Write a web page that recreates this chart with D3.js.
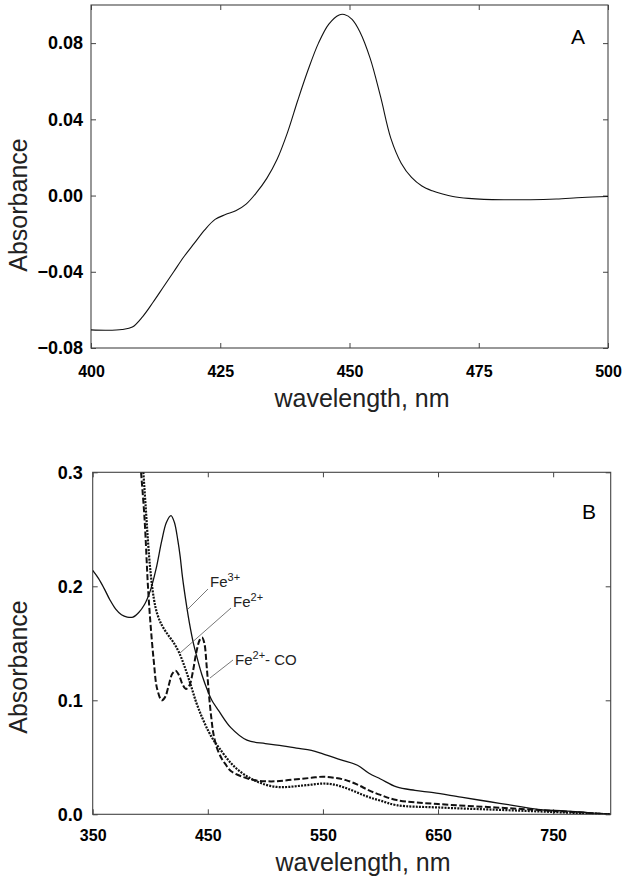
<!DOCTYPE html>
<html><head><meta charset="utf-8">
<script src="https://cdn.jsdelivr.net/npm/d3@7"></script>
<style>
body{margin:0;background:#fff}
svg{display:block}
text{font-family:"Liberation Sans",Arial,sans-serif}
</style></head>
<body>
<svg id="c" width="627" height="882"></svg>
<script>
// ---------- Panel A data (difference spectrum) ----------
const wlA = [400,403,406,408,410,412,414,416,418,420,422,424,426,428,430,432,434,436,438,440,442,444,446,448,449,450.5,452,454,456,458,460,462,464,466,468,470,473,476,480,485,490,495,500];
const absA = [-0.0705,-0.0707,-0.0703,-0.069,-0.0635,-0.056,-0.048,-0.040,-0.032,-0.025,-0.018,-0.0125,-0.010,-0.008,-0.0045,0.0015,0.009,0.019,0.033,0.050,0.066,0.080,0.090,0.0948,0.0950,0.0925,0.086,0.072,0.052,0.030,0.017,0.0095,0.005,0.0025,0.0008,-0.0005,-0.0015,-0.002,-0.0022,-0.0022,-0.0018,-0.001,-0.0005];
const xTicksA = [400,425,450,475,500];
const yTicksA = [-0.08,-0.04,0.00,0.04,0.08];

// ---------- Panel B data ----------
const wlFe3 = [350,355,360,365,370,375,380,385,390,395,400,405,410,414,418,421,424,426,428,431.7,434,437.5,440,445,450,453.5,460,470,484,500,515,527,540,550,565,580,590,600,614,630,646,670,695,720,739,760,780,800];
const absFe3 = [0.214,0.207,0.198,0.188,0.180,0.175,0.173,0.173,0.177,0.184,0.196,0.215,0.240,0.256,0.262,0.256,0.240,0.226,0.208,0.182,0.168,0.150,0.140,0.122,0.108,0.100,0.090,0.076,0.065,0.062,0.060,0.058,0.056,0.053,0.048,0.043,0.036,0.031,0.024,0.021,0.019,0.015,0.011,0.007,0.004,0.003,0.0015,0.000];

const wlFe2 = [394,396,398,400,403,406,410,415,420,425,430,435,440,445,450,455,460,470,480,490,500,510,520,530,540,550,560,570,580,590,600,614,650,700,750,800];
const absFe2 = [0.30,0.27,0.24,0.215,0.19,0.176,0.166,0.158,0.151,0.142,0.129,0.114,0.098,0.085,0.074,0.065,0.058,0.045,0.036,0.030,0.026,0.024,0.024,0.025,0.026,0.027,0.026,0.023,0.019,0.015,0.012,0.008,0.006,0.004,0.002,0.000];

const wlCO = [392,395,398,400,403,406,410,413,416,419,422,425,428,431,434,437,440,443,445,447,449,451,453,455,458,462,466,470,480,490,500,510,520,530,540,550,560,570,580,590,600,614,650,700,750,800];
const absCO = [0.30,0.26,0.20,0.17,0.135,0.11,0.100,0.103,0.113,0.123,0.126,0.122,0.114,0.110,0.113,0.125,0.142,0.153,0.155,0.150,0.130,0.105,0.085,0.070,0.058,0.049,0.043,0.038,0.033,0.030,0.029,0.029,0.030,0.031,0.032,0.033,0.032,0.030,0.026,0.021,0.017,0.0125,0.009,0.006,0.003,0.000];

const xTicksB = [350,450,550,650,750];
const yTicksB = [0.0,0.1,0.2,0.3];

const svg = d3.select("#c");
const frameColor = "#444";

function panel(cfg){
  const x = d3.scaleLinear().domain(cfg.xd).range([cfg.l, cfg.r]);
  const y = d3.scaleLinear().domain(cfg.yd).range([cfg.b, cfg.t]);
  const g = svg.append("g");
  g.append("rect").attr("x",cfg.l).attr("y",cfg.t).attr("width",cfg.r-cfg.l).attr("height",cfg.b-cfg.t)
    .attr("fill","none").attr("stroke",frameColor).attr("stroke-width",1.1);
  const ax = g.append("g").attr("transform",`translate(0,${cfg.b})`)
    .call(d3.axisBottom(x).tickValues(cfg.xt).tickSize(-5).tickPadding(cfg.xpad).tickFormat(d3.format("d")));
  const axT = g.append("g").attr("transform",`translate(0,${cfg.t})`)
    .call(d3.axisTop(x).tickValues(cfg.xt).tickSize(-5).tickFormat(""));
  const ay = g.append("g").attr("transform",`translate(${cfg.l},0)`)
    .call(d3.axisLeft(y).tickValues(cfg.yt).tickSize(-5).tickPadding(cfg.ypad).tickFormat(d3.format(cfg.yf)));
  const ayR = g.append("g").attr("transform",`translate(${cfg.r},0)`)
    .call(d3.axisRight(y).tickValues(cfg.yt).tickSize(-5).tickFormat(""));
  [ax,axT,ay,ayR].forEach(a=>{
    a.select(".domain").remove();
    a.selectAll(".tick line").attr("stroke",frameColor).attr("stroke-width",1);
  });
  ax.selectAll("text").attr("font-size",16).attr("font-weight","bold").attr("fill","#000")
    .attr("font-family","Liberation Sans, Arial, sans-serif");
  ay.selectAll("text").attr("font-size",18).attr("font-weight","bold").attr("fill","#000")
    .attr("font-family","Liberation Sans, Arial, sans-serif");
  g.append("text").attr("x",cfg.titleX).attr("y",cfg.titleY).attr("text-anchor","middle")
    .attr("font-size",25).attr("fill","#222").text("wavelength, nm");
  g.append("text").attr("transform",`translate(27,${cfg.ylabY}) rotate(-90)`).attr("text-anchor","middle")
    .attr("font-size",25).attr("fill","#222").text("Absorbance");
  g.append("text").attr("x",cfg.letterX).attr("y",cfg.letterY).attr("text-anchor","middle")
    .attr("font-size",21).attr("fill","#000").text(cfg.letter);
  const clipId = "clip"+cfg.letter;
  svg.append("clipPath").attr("id",clipId).append("rect")
    .attr("x",cfg.l).attr("y",cfg.t).attr("width",cfg.r-cfg.l).attr("height",cfg.b-cfg.t);
  const plot = g.append("g").attr("clip-path",`url(#${clipId})`);
  return {x,y,g,plot};
}

// Panel A
const A = panel({xd:[400,500], yd:[-0.08,0.10], l:91, r:608, t:5, b:348,
  xt:xTicksA, yt:yTicksA, yf:".2f", xpad:18, ypad:8,
  titleX:362, titleY:407, ylabY:205, letter:"A", letterX:578, letterY:44});
const lineA = d3.line().x((d,i)=>A.x(wlA[i])).y(d=>A.y(d)).curve(d3.curveCatmullRom.alpha(0.5));
A.plot.append("path").attr("d",lineA(absA)).attr("fill","none").attr("stroke","#111").attr("stroke-width",1.1);

// Panel B
const B = panel({xd:[350,800], yd:[0,0.3], l:92.7, r:610.7, t:472.3, b:814.3,
  xt:xTicksB, yt:yTicksB, yf:".1f", xpad:15, ypad:10,
  titleX:363, titleY:871, ylabY:667, letter:"B", letterX:589, letterY:519});
function addLine(wl, ab, dash, w){
  const ln = d3.line().x((d,i)=>B.x(wl[i])).y(d=>B.y(d)).curve(d3.curveCatmullRom.alpha(0.5));
  B.plot.append("path").attr("d",ln(ab)).attr("fill","none").attr("stroke","#111")
    .attr("stroke-width",w).attr("stroke-dasharray",dash);
}
addLine(wlFe3, absFe3, null, 1.3);
addLine(wlFe2, absFe2, "2,1.2", 2.2);
addLine(wlCO, absCO, "6,2.5", 2);

function lab(tx, ty, sup, rest, x1,y1,x2,y2){
  const t = B.g.append("text").attr("x",tx).attr("y",ty).attr("font-size",15).attr("fill","#222");
  t.append("tspan").text("Fe");
  t.append("tspan").attr("dy",-6).attr("font-size",11).text(sup);
  if(rest) t.append("tspan").attr("dy",6).text(rest);
  B.g.append("line").attr("x1",x1).attr("y1",y1).attr("x2",x2).attr("y2",y2)
    .attr("stroke","#555").attr("stroke-width",0.8);
}
lab(210,587,"3+",null,208,589,188,609);
lab(233,607,"2+",null,231,608,180,653);
lab(235,665,"2+","- CO",233,660,210,678);
</script>
</body></html>
